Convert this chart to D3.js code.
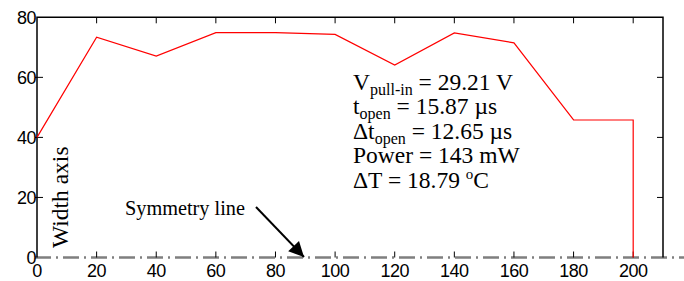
<!DOCTYPE html>
<html>
<head>
  <style>
    body { margin: 0; padding: 0; background: #fff; overflow: hidden; }
    .tick-label { font-family: "Liberation Sans", Arial, sans-serif; font-size: 18px; fill: #000; letter-spacing: -0.5px; }
    .note { font-family: "Liberation Serif", "Times New Roman", "DejaVu Serif", serif; font-size: 23.5px; fill: #000; }
  </style>
</head>
<body>
  <svg id="chart" width="684" height="281"></svg>

  <script src="https://d3js.org/d3.v7.min.js"></script>
  <script>
    // width profile along the length (um)
    const xPos = [0, 20, 40, 60, 80, 100, 120, 140, 160, 180, 200, 200];
    const widthVals = [40, 73.4, 67.1, 74.9, 74.9, 74.3, 64.1, 74.8, 71.5, 45.8, 45.8, 0];
    const xTicks = [0, 20, 40, 60, 80, 100, 120, 140, 160, 180, 200];
    const yTicks = [0, 20, 40, 60, 80];

    const notes = [
      { main: 'V', sub: 'pull-in', rest: ' = 29.21 V' },
      { main: 't', sub: 'open', rest: ' = 15.87 \u00b5s' },
      { main: '\u0394t', sub: 'open', rest: ' = 12.65 \u00b5s' },
      { main: 'Power = 143 mW' },
      { main: '\u0394T = 18.79 ', sup: 'o', rest: 'C' }
    ];

    const svg = d3.select('#chart');
    const x = d3.scaleLinear().domain([0, 210]).range([37, 663]);
    const y = d3.scaleLinear().domain([0, 80]).range([257.5, 17.3]);

    // symmetry line (dash-dot) along y = 0
    svg.append('line')
      .attr('x1', 35).attr('x2', 684)
      .attr('y1', y(0)).attr('y2', y(0))
      .attr('stroke', '#7f7f7f').attr('stroke-width', 2.5)
      .attr('stroke-dasharray', '16,5,2,5');

    // box: left, top, right
    const box = svg.append('g').attr('stroke', '#000').attr('stroke-width', 1.5).attr('fill', 'none');
    box.append('path')
      .attr('d', `M${x(0)},${y(0)}V${y(80)}H${x(210)}V${y(0)}`);

    // inward ticks
    const tk = svg.append('g').attr('stroke', '#000').attr('stroke-width', 1);
    tk.selectAll('.tb').data(xTicks.filter(d => d > 0)).enter().append('line')
      .attr('x1', d => x(d)).attr('x2', d => x(d))
      .attr('y1', y(0)).attr('y2', y(0) - 6);
    tk.selectAll('.tt').data(xTicks.filter(d => d > 0)).enter().append('line')
      .attr('x1', d => x(d)).attr('x2', d => x(d))
      .attr('y1', y(80)).attr('y2', y(80) + 6);
    tk.selectAll('.tl').data(yTicks.filter(d => d > 0 && d < 80)).enter().append('line')
      .attr('x1', x(0) - 2).attr('x2', x(0) + 6)
      .attr('y1', d => y(d)).attr('y2', d => y(d));
    tk.selectAll('.tr').data(yTicks.filter(d => d > 0 && d < 80)).enter().append('line')
      .attr('x1', x(210)).attr('x2', x(210) - 6)
      .attr('y1', d => y(d)).attr('y2', d => y(d));

    // tick labels
    svg.append('g').selectAll('text').data(xTicks).enter().append('text')
      .attr('class', 'tick-label')
      .attr('x', d => x(d)).attr('y', 277)
      .attr('text-anchor', 'middle')
      .text(d => d);
    svg.append('g').selectAll('text').data(yTicks).enter().append('text')
      .attr('class', 'tick-label')
      .attr('x', 36).attr('y', d => y(d) + 6.5)
      .attr('text-anchor', 'end')
      .text(d => d);

    // width profile
    const line = d3.line().x((d, i) => x(xPos[i])).y(d => y(d));
    svg.append('path')
      .datum(widthVals)
      .attr('d', line)
      .attr('fill', 'none')
      .attr('stroke', '#ff0000')
      .attr('stroke-width', 1.2);

    // annotation block
    const noteG = svg.append('g');
    notes.forEach((n, i) => {
      const t = noteG.append('text').attr('class', 'note')
        .attr('x', 353).attr('y', 90 + i * 24.4);
      t.append('tspan').text(n.main);
      if (n.sub) {
        t.append('tspan').style('font-size', '16px').attr('dy', 5).text(n.sub);
        t.append('tspan').attr('dy', -5).text(n.rest);
      } else if (n.sup) {
        t.append('tspan').style('font-size', '15px').attr('dy', -9).text(n.sup);
        t.append('tspan').attr('dy', 9).text(n.rest);
      }
    });

    // axis caption (rotated)
    svg.append('text').attr('class', 'note')
      .attr('transform', 'translate(68,248) rotate(-90)')
      .text('Width axis');

    // symmetry line label and arrow
    svg.append('text').attr('class', 'note')
      .style('font-size', '20.3px')
      .attr('x', 125).attr('y', 215)
      .text('Symmetry line');

    svg.append('defs').append('marker')
      .attr('id', 'arrow')
      .attr('viewBox', '0 0 10 10')
      .attr('refX', 10).attr('refY', 5)
      .attr('markerWidth', 18).attr('markerHeight', 15)
      .attr('markerUnits', 'userSpaceOnUse')
      .attr('orient', 'auto')
      .append('path').attr('d', 'M0,0L10,5L0,10Z').attr('fill', '#000');

    svg.append('line')
      .attr('x1', 256).attr('y1', 207)
      .attr('x2', 304).attr('y2', 257)
      .attr('stroke', '#000').attr('stroke-width', 2)
      .attr('marker-end', 'url(#arrow)');
  </script>
</body>
</html>
